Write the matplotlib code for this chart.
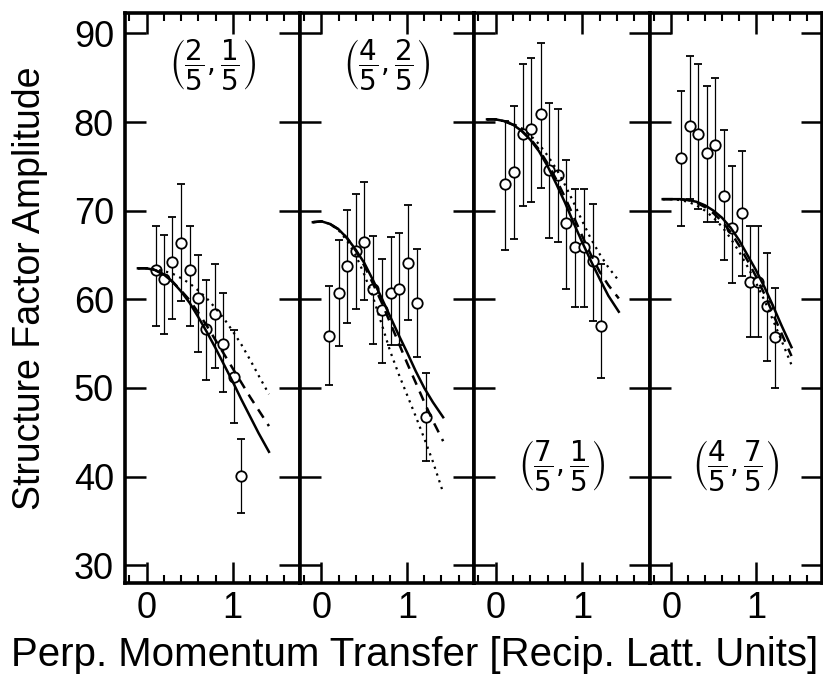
import matplotlib
matplotlib.use("Agg")
import matplotlib.pyplot as plt
from matplotlib.ticker import MultipleLocator, FixedLocator
from matplotlib import font_manager

# ---------------- data ----------------
panel_labels = [r"$\left(\dfrac{2}{5},\dfrac{1}{5}\right)$",
                r"$\left(\dfrac{4}{5},\dfrac{2}{5}\right)$",
                r"$\left(\dfrac{7}{5},\dfrac{1}{5}\right)$",
                r"$\left(\dfrac{4}{5},\dfrac{7}{5}\right)$"]

# measured points: q, amplitude, upper end, lower end of error bar
p1_q   = [0.11, 0.20, 0.30, 0.40, 0.50, 0.60, 0.69, 0.79, 0.89, 1.01, 1.10]
p1_y   = [63.3, 62.3, 64.2, 66.3, 63.3, 60.2, 56.6, 58.3, 55.0, 51.2, 40.1]
p1_hi  = [68.3, 67.3, 69.3, 73.0, 68.3, 65.0, 62.2, 64.0, 60.7, 56.5, 44.3]
p1_lo  = [57.0, 56.1, 57.8, 59.8, 57.0, 54.1, 50.9, 52.3, 49.6, 46.1, 35.9]

p2_q   = [0.09, 0.20, 0.30, 0.40, 0.50, 0.60, 0.71, 0.81, 0.91, 1.01, 1.11, 1.22]
p2_y   = [55.9, 60.7, 63.8, 65.4, 66.5, 61.2, 58.8, 60.7, 61.2, 64.1, 59.6, 46.7]
p2_hi  = [61.5, 66.7, 70.1, 71.9, 73.2, 67.1, 64.6, 67.0, 67.5, 70.6, 65.7, 51.7]
p2_lo  = [50.3, 54.7, 57.3, 58.9, 59.9, 55.0, 52.8, 54.8, 54.8, 57.7, 53.5, 41.8]

p3_q   = [0.11, 0.21, 0.31, 0.41, 0.52, 0.61, 0.72, 0.81, 0.91, 1.02, 1.12, 1.22]
p3_y   = [73.0, 74.4, 78.7, 79.2, 80.9, 74.6, 74.0, 68.6, 65.9, 65.9, 64.3, 57.0]
p3_hi  = [80.1, 81.8, 86.5, 87.2, 88.9, 82.2, 81.5, 75.7, 72.5, 72.5, 70.7, 64.0]
p3_lo  = [65.6, 66.8, 70.5, 71.0, 72.6, 66.9, 66.5, 61.2, 59.1, 59.1, 57.6, 51.1]

p4_q   = [0.12, 0.22, 0.32, 0.42, 0.52, 0.62, 0.72, 0.83, 0.93, 1.03, 1.13, 1.22]
p4_y   = [75.9, 79.6, 78.7, 76.5, 77.4, 71.7, 68.0, 69.7, 62.0, 62.0, 59.3, 55.7]
p4_hi  = [83.5, 87.4, 86.5, 84.1, 85.0, 79.1, 75.0, 76.7, 68.3, 68.3, 65.2, 61.3]
p4_lo  = [68.3, 71.3, 70.2, 68.7, 68.7, 64.4, 61.8, 62.6, 55.7, 55.7, 53.0, 50.0]

# model curves (solid, dashed, dotted)
cq = [-0.1, 0.0, 0.1, 0.2, 0.3, 0.4, 0.5, 0.6, 0.7, 0.8, 0.9, 1.0, 1.1, 1.2, 1.3, 1.42]

c1_solid  = [63.5, 63.5, 63.3, 62.8, 62.0, 60.9, 59.6, 58.0, 56.3, 54.5, 52.6, 50.7, 48.7, 46.8, 44.9, 42.8]
c1_dashed = [63.5, 63.5, 63.3, 62.8, 62.0, 61.0, 59.9, 58.5, 57.0, 55.4, 53.8, 52.2, 50.6, 49.0, 47.5, 45.7]
c1_dotted = [63.5, 63.5, 63.4, 63.2, 62.9, 62.4, 61.8, 61.0, 60.1, 59.0, 57.8, 56.4, 54.9, 53.2, 51.4, 49.3]

c2_solid  = [68.7, 68.8, 68.5, 67.9, 66.9, 65.6, 64.1, 62.2, 60.2, 58.1, 56.0, 54.0, 51.9, 50.0, 48.4, 46.7]
c2_dashed = [68.7, 68.8, 68.5, 67.9, 66.9, 65.5, 63.8, 61.8, 59.7, 57.4, 55.1, 52.8, 50.6, 48.4, 46.3, 44.0]
c2_dotted = [68.7, 68.8, 68.5, 67.8, 66.6, 65.0, 62.8, 60.3, 57.3, 54.2, 51.6, 49.2, 46.8, 44.3, 41.7, 38.2]

c3_solid  = [80.3, 80.3, 80.1, 79.7, 79.0, 78.0, 76.7, 75.0, 73.0, 70.9, 68.6, 66.4, 64.3, 62.3, 60.4, 58.6]
c3_dashed = [80.3, 80.3, 80.1, 79.7, 79.0, 78.1, 76.9, 75.3, 73.5, 71.5, 69.3, 67.1, 65.0, 63.1, 61.6, 60.1]
c3_dotted = [80.3, 80.3, 80.1, 79.8, 79.3, 78.5, 77.5, 76.2, 74.7, 72.9, 70.9, 68.8, 66.8, 65.1, 63.6, 62.1]

c4_solid  = [71.3, 71.3, 71.3, 71.2, 71.0, 70.6, 70.0, 69.2, 68.1, 66.7, 65.0, 63.3, 61.4, 59.3, 57.1, 54.6]
c4_dashed = [71.3, 71.3, 71.3, 71.2, 70.9, 70.4, 69.7, 68.8, 67.6, 66.1, 64.4, 62.6, 60.6, 58.4, 56.2, 53.6]
c4_dotted = [71.3, 71.3, 71.2, 71.0, 70.6, 70.0, 69.2, 68.2, 66.9, 65.4, 63.7, 61.9, 59.9, 57.7, 55.4, 52.6]

x_ticklabels = ["0", "1"]
y_ticks = [30, 40, 50, 60, 70, 80, 90]
ylabel = "Structure Factor Amplitude"
xlabel = "Perp. Momentum Transfer [Recip. Latt. Units]"

# ---------------- style ----------------
avail = {f.name for f in font_manager.fontManager.ttflist}
main_font = "DejaVu Sans"
for cand in ["Liberation Sans Narrow", "DejaVu Sans Condensed", "Liberation Sans"]:
    if cand in avail:
        main_font = cand
        break
plt.rcParams["font.family"] = [main_font, "DejaVu Sans"]
plt.rcParams["mathtext.fontset"] = "dejavusans"

W, H = 823, 686
fig = plt.figure(figsize=(W / 100, H / 100), dpi=100)

edges = [125, 300, 474, 650, 822]
top_px, bot_px = 13, 583

points = [(p1_q, p1_y, p1_hi, p1_lo), (p2_q, p2_y, p2_hi, p2_lo),
          (p3_q, p3_y, p3_hi, p3_lo), (p4_q, p4_y, p4_hi, p4_lo)]
curves = [(c1_solid, c1_dashed, c1_dotted), (c2_solid, c2_dashed, c2_dotted),
          (c3_solid, c3_dashed, c3_dotted), (c4_solid, c4_dashed, c4_dotted)]
label_pos = [(0.5, 0.91), (0.5, 0.91), (0.5, 0.207), (0.5, 0.207)]

for i in range(4):
    l, r = edges[i], edges[i + 1]
    ax = fig.add_axes([l / W, 1 - bot_px / H, (r - l) / W, (bot_px - top_px) / H])
    ax.set_xlim(-0.25, 1.78)
    ax.set_ylim(28.0, 92.3)
    q, y, hi, lo = points[i]
    yerr = [[yy - ll for yy, ll in zip(y, lo)], [hh - yy for yy, hh in zip(y, hi)]]
    ax.errorbar(q, y, yerr=yerr, fmt="o", ms=7.5, mfc="white", mec="black", mew=1.3,
                ecolor="black", elinewidth=0.9, capsize=3, capthick=1.2, zorder=3)
    s, d, o = curves[i]
    ax.plot(cq, s, color="black", lw=1.8, ls="-", zorder=4)
    ax.plot(cq, d, color="black", lw=1.8, ls=(0, (4, 3)), zorder=4)
    ax.plot(cq, o, color="black", lw=1.6, ls=(0, (1, 2.2)), zorder=4)

    ax.xaxis.set_major_locator(FixedLocator([0, 1]))
    ax.xaxis.set_minor_locator(MultipleLocator(0.2))
    ax.set_xticklabels(x_ticklabels)
    ax.yaxis.set_major_locator(FixedLocator(y_ticks))
    ax.tick_params(which="major", direction="in", length=15, width=1.8,
                   top=True, right=True, labelsize=26, pad=6)
    ax.tick_params(which="minor", direction="in", length=6, width=1.5,
                   top=True, right=True)
    ax.tick_params(axis="y", which="minor", left=False, right=False)
    ax.tick_params(axis="y", which="major", pad=8)
    if i > 0:
        ax.tick_params(axis="y", labelleft=False)
    for sp in ax.spines.values():
        sp.set_linewidth(2.6)
    ax.text(label_pos[i][0], label_pos[i][1], panel_labels[i], transform=ax.transAxes,
            ha="center", va="center", fontsize=20)

fig.text(0.504, 1 - 655 / H, xlabel, ha="center", va="center", fontsize=29)
fig.text(30 / W, 1 - 288 / H, ylabel, ha="center", va="center", rotation=90, fontsize=27)

fig.savefig("out.png", dpi=100)
